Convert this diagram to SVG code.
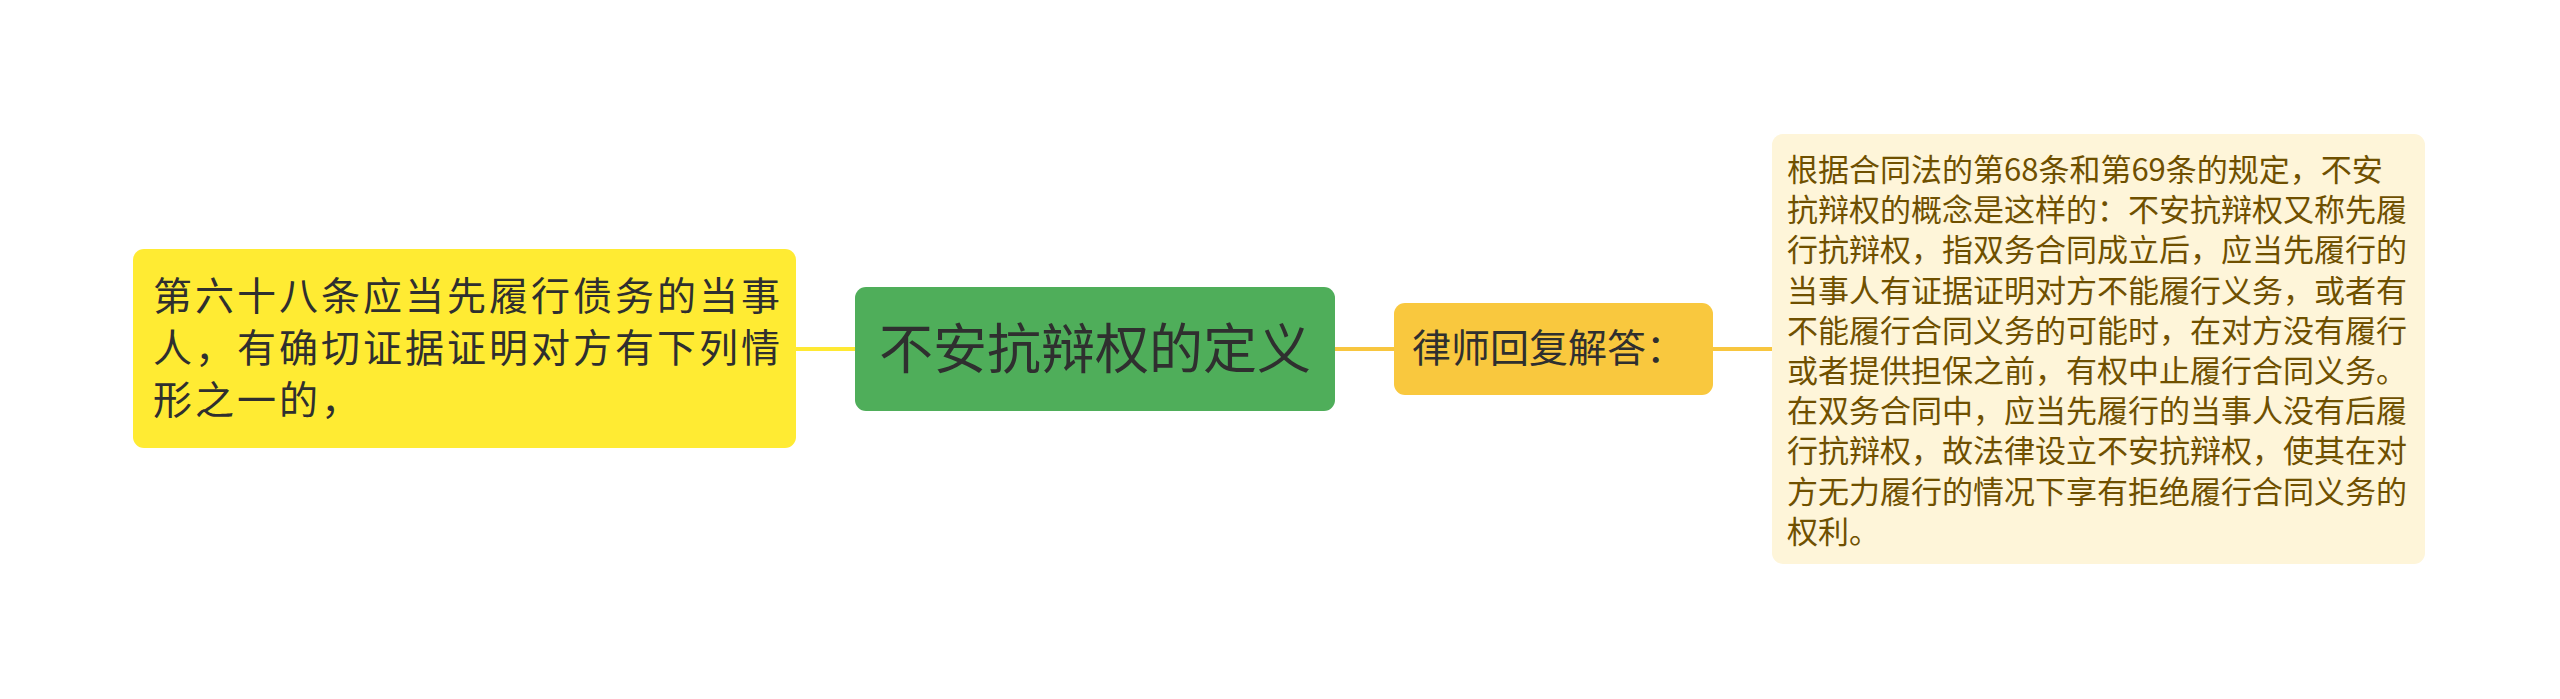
<svg xmlns="http://www.w3.org/2000/svg" width="2560" height="699" viewBox="0 0 2560 699">
<style>
text{font-family:"Noto Sans CJK SC","Noto Sans",sans-serif;}
.dark{fill:#2f2f2f;}
.brown{fill:#6f5000;}
.lt{font-size:39px;letter-spacing:3px;}
.c-y{stroke:#FFE933;stroke-width:4;fill:none;}
.c-o{stroke:#F8C63F;stroke-width:4;fill:none;}
</style>
<rect width="2560" height="699" fill="#ffffff"/>
<g id="connectors">
<line class="c-y" x1="796" y1="349" x2="856" y2="349"/>
<line class="c-o" x1="1335" y1="349" x2="1394" y2="349"/>
<line class="c-o" x1="1713" y1="349" x2="1773" y2="349"/>
</g>
<g id="node-left">
<rect x="133" y="249" width="663" height="199" rx="11" fill="#FFEB33"/>
<text class="dark lt" x="153" y="310">第六十八条应当先履行债务的当事</text>
<text class="dark lt" x="153" y="362">人，有确切证据证明对方有下列情</text>
<text class="dark lt" x="153" y="414">形之一的，</text>
</g>
<g id="node-center">
<rect x="855" y="287" width="480" height="124" rx="11" fill="#4FAE5A"/>
<text class="dark" font-size="54" x="1095" y="369" text-anchor="middle">不安抗辩权的定义</text>
</g>
<g id="node-answer">
<rect x="1394" y="303" width="319" height="92" rx="11" fill="#F9C83E"/>
<text class="dark" font-size="39" x="1412" y="362">律师回复解答：</text>
</g>
<g id="node-detail">
<rect x="1772" y="134" width="653" height="430" rx="11" fill="#FEF5D9"/>
<text class="brown" font-size="31">
<tspan x="1787" y="181">根据合同法的第68条和第69条的规定，不安</tspan>
<tspan x="1787" y="221.2">抗辩权的概念是这样的：不安抗辩权又称先履</tspan>
<tspan x="1787" y="261.4">行抗辩权，指双务合同成立后，应当先履行的</tspan>
<tspan x="1787" y="301.6">当事人有证据证明对方不能履行义务，或者有</tspan>
<tspan x="1787" y="341.8">不能履行合同义务的可能时，在对方没有履行</tspan>
<tspan x="1787" y="382">或者提供担保之前，有权中止履行合同义务。</tspan>
<tspan x="1787" y="422.2">在双务合同中，应当先履行的当事人没有后履</tspan>
<tspan x="1787" y="462.4">行抗辩权，故法律设立不安抗辩权，使其在对</tspan>
<tspan x="1787" y="502.6">方无力履行的情况下享有拒绝履行合同义务的</tspan>
<tspan x="1787" y="542.8">权利。</tspan>
</text>
</g>
</svg>
